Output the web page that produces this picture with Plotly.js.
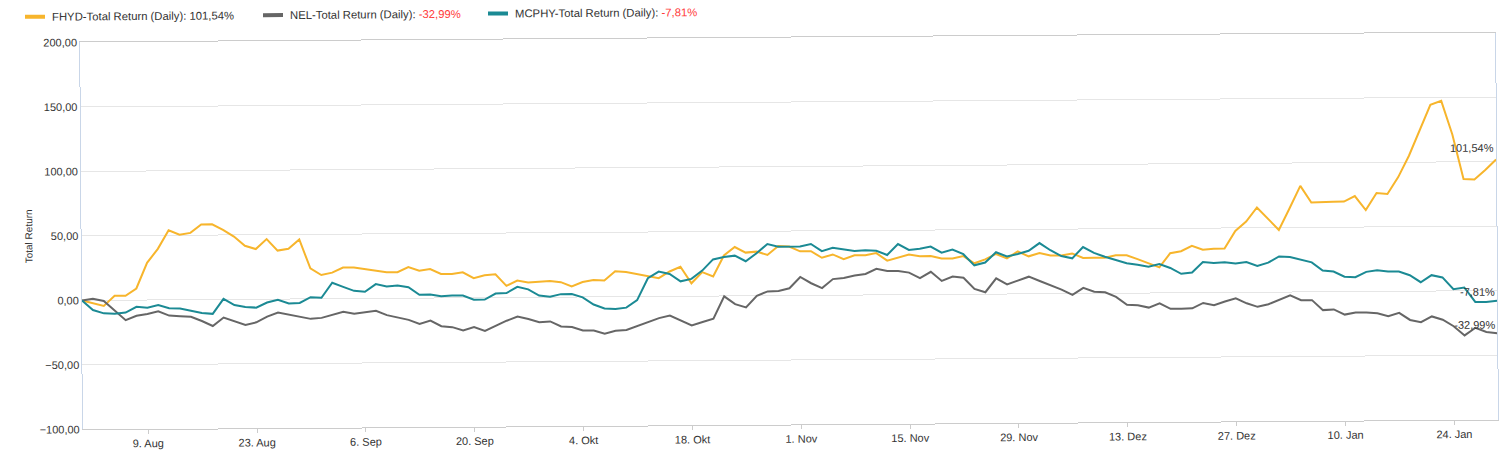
<!DOCTYPE html>
<html>
<head>
<meta charset="utf-8">
<script src="https://cdn.plot.ly/plotly-3.0.1.min.js"></script>
<style>
  html, body { margin: 0; padding: 0; background: #fff; overflow: hidden; }
  /* the source picture is slightly tilted (right side higher) */
  #myDiv { width: 1509px; height: 472px; transform: rotate(-0.4deg); transform-origin: 148px 300px; }
</style>
</head>
<body>
<div id="myDiv"></div>
<script>
// first and last trading day of the chart (weekdays only)
const firstDay = '2021-07-30';
const lastDay = '2022-01-28';

// total return in %, one value per trading day
const fhyd = [
    0, -2, -4.4, 3.4, 3.4, 9, 28.8, 39.6, 53.9, 50.5,
    51.8, 58.3, 58.3, 53.9, 48.7, 41.5, 38.9, 46.6, 37.6, 38.9,
    46.1, 23.6, 18.4, 20.2, 24.1, 24.1, 22.8, 21.5, 20.2, 20.2,
    24.1, 21.2, 22.4, 18.6, 18.6, 19.8, 15.2, 17.3, 18, 9,
    13.1, 11.6, 12.1, 12.6, 11.6, 8.2, 11.6, 13.1, 12.6, 19.8,
    19.1, 17.3, 15.7, 14.2, 19.3, 22.9, 10, 18.6, 15.2, 31.4,
    37.9, 33.5, 34.2, 31.6, 38.5, 38, 34.2, 34.2, 29.1, 31.6,
    27.8, 30.9, 30.9, 32.4, 26.5, 28.6, 31.1, 29.8, 29.8, 27.8,
    27.8, 29.6, 24, 27, 31.1, 27.6, 32.9, 29.1, 31.6, 29.6,
    29.6, 31.1, 27.5, 27.6, 27.6, 29.4, 29.4, 26.3, 22.9, 19.8,
    30.7, 32.2, 36.3, 33.2, 34, 34, 47.7, 54.9, 65.7, 57.2,
    48.2, 64.9, 82.2, 69.3, 69.8, 69.8, 69.8, 74, 63.1, 76.3,
    75.5, 88.5, 105, 125.1, 144.4, 147.4, 121.3, 86.7, 86.2, 93.6,
    101.54
];
const nel = [
    0, 1.3, -0.5, -8.3, -15.5, -12.2, -10.9, -8.8, -12.2, -12.7,
    -13.2, -16.6, -20.5, -14, -16.8, -19.9, -17.9, -13.5, -10.4, -12.2,
    -14.2, -15.5, -14.8, -12.2, -10.1, -11.7, -10.9, -9.6, -13, -14.8,
    -16.8, -20, -17.5, -21.9, -22.7, -25.3, -22.7, -25.8, -21.9, -18,
    -14.9, -16.8, -19.3, -18.8, -22.7, -23.2, -26, -26, -28.6, -26.3,
    -25.8, -22.7, -20.1, -16.8, -14.9, -18.8, -22.7, -20.1, -17.5, -0.3,
    -6.4, -9, 0, 3.3, 3.6, 5.6, 14.3, 9.4, 5.6, 12.5,
    13.3, 15.1, 16.3, 20.2, 18.4, 18.4, 17.1, 12.8, 17.6, 10.5,
    13.8, 12.8, 4.1, 1.5, 12.2, 7.4, 10.5, 13.3, 9.9, 6.6,
    3.1, -1, 4.3, 1.3, 0.8, -2.8, -9, -9.5, -11.3, -8,
    -12.4, -12.4, -12.1, -8, -9.8, -7, -4.6, -8.5, -11.3, -9.3,
    -5.9, -2.6, -6.4, -6.4, -14.2, -13.7, -17.8, -16.2, -16.2, -17,
    -19.2, -16.7, -22.3, -24.1, -19.7, -22.3, -27.4, -34.6, -28.7, -32,
    -32.99
];
const mcphy = [
    0, -7.5, -10.1, -10.4, -9.6, -5.2, -6, -3.9, -6.5, -6.7,
    -8.5, -10.4, -11.1, 0.5, -4.4, -6, -6.5, -2.6, -0.5, -3.4,
    -3.1, 1.3, 0.8, 12.4, 9.1, 6, 5.2, 11.1, 9.1, 9.8,
    8.5, 2.6, 2.8, 1.3, 1.8, 1.8, -1.5, -1.5, 3.1, 3.4,
    8.2, 6.2, 1.3, 0.3, 2.3, 2.3, -0.3, -5.9, -9, -9.5,
    -8.5, -2.8, 14.2, 19.3, 17.3, 11.6, 13.4, 19.8, 28.4, 30.2,
    31.2, 26.8, 32.9, 40, 37.8, 37.8, 38, 39.8, 34.2, 36.7,
    35.5, 34.2, 34.7, 34.2, 30.9, 39.3, 34.7, 35.5, 37.2, 32.4,
    34.7, 31.1, 22.4, 24.5, 32.4, 29.1, 30.9, 33.4, 39.3, 33.7,
    29.1, 27.3, 36, 31.4, 28.4, 25.8, 23.2, 21.9, 20.4, 22.4,
    19.3, 14.7, 15.7, 23.7, 22.9, 23.5, 22.4, 23.5, 20.4, 22.9,
    27.6, 27.1, 25, 22.9, 16.5, 15.7, 11.6, 11.1, 15.2, 16.5,
    15.3, 15.3, 12.4, 6.9, 12.3, 10.5, 1.3, 2.6, -8.7, -8.7,
    -7.81
];

const seriesNames = ['FHYD-Total Return (Daily)', 'NEL-Total Return (Daily)', 'MCPHY-Total Return (Daily)'];
const endLabels = ['101,54%', '-32,99%', '-7,81%'];
const seriesColors = ['#f7b52c', '#666666', '#1b8a94'];

const tickDates = ['2021-08-09', '2021-08-23', '2021-09-06', '2021-09-20', '2021-10-04', '2021-10-18',
    '2021-11-01', '2021-11-15', '2021-11-29', '2021-12-13', '2021-12-27', '2022-01-10', '2022-01-24'];
const tickLabels = ['9. Aug', '23. Aug', '6. Sep', '20. Sep', '4. Okt', '18. Okt',
    '1. Nov', '15. Nov', '29. Nov', '13. Dez', '27. Dez', '10. Jan', '24. Jan'];

// list of weekdays between first and last day
const days = [];
for (let d = new Date(firstDay + 'T00:00:00Z'); d <= new Date(lastDay + 'T00:00:00Z'); d.setUTCDate(d.getUTCDate() + 1)) {
    const wd = d.getUTCDay();
    if (wd !== 0 && wd !== 6) days.push(d.toISOString().slice(0, 10));
}

const values = [fhyd, nel, mcphy];

// plot area in pixels, used to place the legend above it
const W = 1509, H = 472;
const margin = { l: 82, r: 12, t: 42, b: 43 };
const pw = W - margin.l - margin.r;
const ph = H - margin.t - margin.b;
const px = (x) => (x - margin.l) / pw;
const py = (y) => (H - margin.b - y) / ph;

const data = values.map((ys, k) => ({
    x: days,
    y: ys,
    type: 'scatter',
    mode: 'lines',
    name: seriesNames[k],
    line: { color: seriesColors[k], width: 2 },
    hoverinfo: 'none'
}));

// end-of-line value labels
const annotations = values.map((ys, k) => ({
    x: days[days.length - 1],
    y: ys[ys.length - 1],
    text: endLabels[k],
    showarrow: false,
    xanchor: 'right',
    yanchor: 'bottom',
    yshift: k === 0 ? 4 : 1,
    font: { size: 11, color: '#333333' }
}));

// legend row on top: coloured bar + name + final value
const legendX = [27, 265, 490];
const shapes = [];
legendX.forEach((lx, k) => {
    const val = endLabels[k];
    const valText = val.startsWith('-') ? '<span style="color:#ff3b3b">' + val + '</span>' : val;
    shapes.push({
        type: 'line', xref: 'paper', yref: 'paper',
        x0: px(lx), x1: px(lx + 20), y0: py(16), y1: py(16),
        line: { color: seriesColors[k], width: 4 }
    });
    annotations.push({
        xref: 'paper', yref: 'paper',
        x: px(lx + 25), y: py(16),
        xanchor: 'left', yanchor: 'middle',
        showarrow: false,
        text: seriesNames[k] + ': ' + valText,
        font: { size: 11.3, color: '#333333' }
    });
});

const layout = {
    width: W,
    height: H,
    margin: margin,
    paper_bgcolor: '#ffffff',
    plot_bgcolor: '#ffffff',
    separators: ',.',
    font: { family: '"Liberation Sans", Arial, sans-serif', size: 11, color: '#333333' },
    showlegend: false,
    xaxis: {
        type: 'date',
        range: [firstDay, lastDay],
        rangebreaks: [{ bounds: ['sat', 'mon'] }],
        tickmode: 'array',
        tickvals: tickDates,
        ticktext: tickLabels,
        ticks: 'outside',
        ticklen: 4,
        tickcolor: '#cccccc',
        showgrid: false,
        showline: true,
        linecolor: '#cccccc',
        mirror: true,
        zeroline: false,
        tickfont: { size: 11, color: '#333333' }
    },
    yaxis: {
        range: [-100, 200],
        dtick: 50,
        tickformat: '.2f',
        showgrid: true,
        gridcolor: '#e6e6e6',
        zeroline: false,
        showline: true,
        linecolor: '#c9d6e8',
        mirror: true,
        ticks: '',
        tickfont: { size: 11, color: '#333333' },
        title: { text: 'Total Return', font: { size: 10, color: '#333333' }, standoff: 3 }
    },
    shapes: shapes,
    annotations: annotations
};

Plotly.newPlot('myDiv', data, layout, { displayModeBar: false, staticPlot: true });
</script>
</body>
</html>
